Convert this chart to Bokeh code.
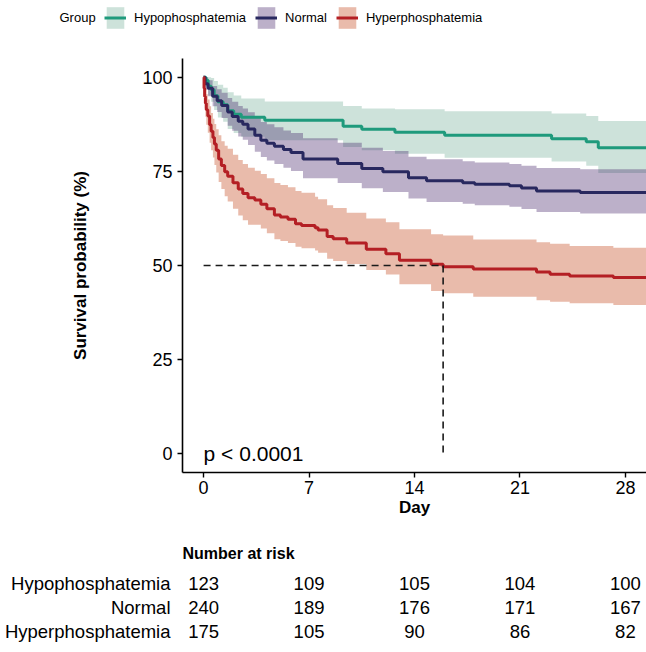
import numpy as np
from bokeh.plotting import figure
from bokeh.models import Range1d, FactorRange, Legend, LegendItem, ColumnDataSource, Label
from bokeh.layouts import column
from bokeh.embed import file_html
from bokeh.resources import INLINE
from bokeh.core.properties import value

FONT = "Liberation Sans"

groups = ["Hypophosphatemia", "Normal", "Hyperphosphatemia"]
legend_title = "Group"
line_colors = ["#1F9A7C", "#28285F", "#B41F24"]
band_colors = ["#70AC95", "#401D65", "#C03D0F"]

follow_end = 30

# Hypophosphatemia
hypo_time = [0, 0.15, 0.3, 0.5, 0.7, 0.95, 1.3, 1.6, 2.0, 2.5, 4.06, 9.26, 10.5, 12.7, 16.0, 23.1, 25.4, 26.2]
hypo_surv = [100, 99.2, 97.6, 96.7, 95.1, 93.5, 92.7, 91.1, 90.2, 89.4, 88.6, 87.0, 86.2, 85.4, 84.6, 83.7, 82.9, 81.3]
hypo_lower = [100, 97.6, 95.2, 93.5, 91.3, 89.3, 88.2, 86.3, 85.2, 84.2, 83.3, 81.5, 80.6, 79.7, 78.6, 77.6, 76.5, 74.6]
hypo_upper = [100, 100, 100, 99.8, 99.0, 98.0, 97.2, 96.0, 95.2, 94.4, 93.6, 92.4, 91.7, 91.5, 91.0, 90.4, 89.7, 88.4]

# Normal
norm_time = [0, 0.1, 0.3, 0.6, 0.9, 1.2, 1.6, 1.9, 2.3, 2.6, 2.95, 3.4, 3.8, 4.2, 4.7, 5.3, 5.8, 6.6,
             8.9, 10.5, 11.9, 13.6, 14.8, 17.2, 18.0, 20.3, 21.1, 22.1, 25.0]
norm_surv = [100, 98.3, 97.1, 95.0, 93.8, 92.5, 90.8, 89.6, 88.3, 87.5, 86.3, 84.6, 83.3, 82.5, 81.7, 80.8, 80.0, 78.3,
             77.1, 75.8, 74.9, 73.3, 72.5, 72.0, 71.6, 71.2, 70.6, 69.8, 69.4]
norm_lower = [100, 96.7, 95.0, 92.3, 90.8, 89.2, 87.1, 85.8, 84.3, 83.4, 82.0, 80.2, 78.8, 77.9, 77.0, 76.0, 75.1, 73.2,
              71.9, 70.5, 69.5, 67.8, 66.9, 66.4, 66.0, 65.6, 65.0, 64.2, 63.8]
norm_upper = [100, 100, 99.2, 97.7, 96.8, 95.9, 94.5, 93.5, 92.4, 91.7, 90.7, 89.3, 88.1, 87.5, 86.7, 85.9, 85.2, 83.8,
              82.6, 81.3, 80.4, 78.9, 78.2, 77.7, 77.4, 77.0, 76.5, 75.9, 75.6]

# Hyperphosphatemia
hyper_time = [0, 0.03, 0.07, 0.12, 0.18, 0.28, 0.4, 0.5, 0.62, 0.72, 0.84, 1.0, 1.18, 1.4, 1.6, 1.95, 2.3, 2.6, 2.95,
              3.4, 3.8, 4.2, 4.7, 5.1, 5.6, 6.1, 6.5, 7.4, 7.6, 8.2, 8.6, 9.5, 10.8, 12.1, 13.0, 15.1, 15.9, 17.9,
              22.1, 23.0, 24.3, 27.2]
hyper_surv = [100, 97.1, 94.9, 93.1, 91.4, 89.7, 87.4, 85.7, 84.0, 82.3, 80.6, 78.3, 76.6, 74.9, 73.7, 72.0, 70.3, 69.1, 68.0,
              67.4, 66.3, 65.1, 63.4, 62.9, 62.3, 61.1, 60.6, 60.0, 59.4, 57.7, 57.1, 56.0, 54.3, 53.1, 51.4, 50.3, 49.7, 49.1,
              48.3, 47.7, 47.2, 46.8]
hyper_lower = [100, 94.6, 91.7, 89.5, 87.4, 85.3, 82.6, 80.6, 78.7, 76.7, 74.7, 72.2, 70.3, 68.4, 67.0, 65.1, 63.3, 62.0, 60.8,
               60.8, 59.8, 58.6, 57.0, 56.5, 56.0, 55.0, 54.6, 54.0, 53.4, 51.8, 51.2, 50.4, 48.8, 47.6, 45.0, 43.2, 42.6, 41.7,
               40.8, 40.4, 40.0, 39.5]
hyper_upper = [100, 99.5, 98.2, 96.8, 95.5, 94.1, 92.3, 90.5, 89.0, 87.6, 86.2, 84.6, 83.0, 81.8, 81.0, 79.4, 78.0, 77.0, 76.0,
               75.2, 74.3, 73.2, 71.9, 71.4, 70.8, 69.8, 69.3, 68.3, 67.6, 66.0, 65.3, 64.0, 62.5, 61.5, 59.6, 58.3, 58.0, 56.9,
               56.2, 55.8, 55.2, 54.7]

# Number at risk
risk_days = [0, 7, 14, 21, 28]
risk_hypo = [123, 109, 105, 104, 100]
risk_norm = [240, 189, 176, 171, 167]
risk_hyper = [175, 105, 90, 86, 82]

p_value_text = "p < 0.0001"

series = [
    (hypo_time, hypo_surv, hypo_lower, hypo_upper),
    (norm_time, norm_surv, norm_lower, norm_upper),
    (hyper_time, hyper_surv, hyper_lower, hyper_upper),
]


def sources(t, s, lo, up):
    band = ColumnDataSource(dict(x=list(t) + [follow_end], lo=list(lo) + [lo[-1]], up=list(up) + [up[-1]]))
    line = ColumnDataSource(dict(x=list(t) + [follow_end], y=list(s) + [s[-1]]))
    return band, line


x_range = Range1d(-1.4, 29.4)

# ---------- legend strip (own figure so the legend is not clipped) ----------
lg = figure(width=646, height=35, x_range=Range1d(-1.4, 29.4), y_range=Range1d(1000, 1001),
            output_backend="svg", toolbar_location=None,
            min_border_left=0, min_border_right=0, min_border_top=0, min_border_bottom=0,
            x_axis_location=None, y_axis_location=None)
lg.grid.visible = False
lg.outline_line_color = None
lg_items = []
for g, (t, s, lo, up), bc, lc in zip(groups, series, band_colors, line_colors):
    bsrc, lsrc = sources(t, s, lo, up)
    b = lg.varea_step(x="x", y1="lo", y2="up", source=bsrc, step_mode="after", fill_color=bc, fill_alpha=0.35)
    l = lg.step(x="x", y="y", source=lsrc, mode="after", line_color=lc, line_width=3)
    lg_items.append(LegendItem(label=g, renderers=[b, l]))

legend = Legend(items=lg_items, orientation="horizontal", location=(104, 4),
                label_text_font=FONT, label_text_font_size="13px", label_text_color="black",
                glyph_width=22, glyph_height=27, label_standoff=8, spacing=9, padding=0, margin=0,
                border_line_color=None, background_fill_alpha=0)
lg.add_layout(legend, "center")
lg.add_layout(Label(x=59, y=18, x_units="screen", y_units="screen", text=legend_title,
                    text_font=FONT, text_font_size="13px", text_baseline="middle", text_color="black"))

# ---------- main survival plot ----------
p = figure(width=646, height=490, x_range=x_range, y_range=Range1d(-5, 105),
           output_backend="svg", toolbar_location=None,
           min_border_left=182, min_border_right=0, min_border_top=23, min_border_bottom=53)
p.grid.visible = False
p.outline_line_color = None

for (t, s, lo, up), bc in zip(series, band_colors):
    bsrc, _ = sources(t, s, lo, up)
    p.varea_step(x="x", y1="lo", y2="up", source=bsrc, step_mode="after", fill_color=bc, fill_alpha=0.35)

for (t, s, lo, up), lc in zip(series, line_colors):
    _, lsrc = sources(t, s, lo, up)
    p.step(x="x", y="y", source=lsrc, mode="after", line_color=lc, line_width=3)

# median survival of hyperphosphatemia group
med = None
for tt, ss in zip(hyper_time, hyper_surv):
    if ss <= 50:
        med = tt
        break
if med is not None:
    p.line(x=[0, med], y=[50, 50], line_dash="7 5", line_color="#1a1a1a", line_width=1.6)
    p.line(x=[med, med], y=[50, 0], line_dash="7 5", line_color="#1a1a1a", line_width=1.6)

p.text(x=[0], y=[0], text=[p_value_text], text_font=value(FONT), text_font_size="21px",
       text_align="left", text_baseline="middle", text_color="black")

for ax in (p.xaxis[0], p.yaxis[0]):
    ax.axis_line_color = "black"
    ax.axis_line_width = 1.6
    ax.major_tick_line_color = "black"
    ax.major_tick_line_width = 1.4
    ax.major_tick_out = 5
    ax.major_tick_in = 0
    ax.minor_tick_line_color = None
    ax.major_label_text_font = FONT
    ax.major_label_text_font_size = "18px"
    ax.major_label_text_color = "black"
    ax.axis_label_text_font = FONT
    ax.axis_label_text_font_size = "17px"
    ax.axis_label_text_font_style = "bold"
    ax.axis_label_text_color = "black"

p.xaxis.ticker = risk_days
p.xaxis.axis_label = "Day"
p.xaxis.axis_label_standoff = 1
p.xaxis.major_label_standoff = 3
p.yaxis.ticker = [0, 25, 50, 75, 100]
p.yaxis.axis_label = "Survival probability (%)"
p.yaxis.axis_label_standoff = 49
p.yaxis.major_label_standoff = 5

# ---------- risk table ----------
r = figure(width=646, height=127, x_range=x_range, y_range=FactorRange(factors=groups[::-1]),
           output_backend="svg", toolbar_location=None, title="Number at risk",
           min_border_left=182, min_border_right=0, min_border_top=46, min_border_bottom=9)
r.grid.visible = False
r.outline_line_color = None
r.xaxis.visible = False
r.yaxis.axis_line_color = None
r.yaxis.major_tick_line_color = None
r.yaxis.minor_tick_line_color = None
r.yaxis.major_label_text_font = FONT
r.yaxis.major_label_text_font_size = "18.5px"
r.yaxis.major_label_text_color = "black"
r.yaxis.major_label_standoff = 6
r.title.text_font = FONT
r.title.text_font_size = "16px"
r.title.text_font_style = "bold"
r.title.align = "left"
r.title.text_color = "black"
r.title.standoff = 19

rx, ry, rt = [], [], []
for g, counts in zip(groups, [risk_hypo, risk_norm, risk_hyper]):
    for d, c in zip(risk_days, counts):
        rx.append(d)
        ry.append(g)
        rt.append(str(c))
r.text(x=rx, y=ry, text=rt, text_font=value(FONT), text_font_size="18.5px",
       text_align="center", text_baseline="middle", text_color="black")

layout = column(lg, column(p, r, spacing=0), spacing=0)
open("out.html", "w").write(file_html(layout, INLINE))
